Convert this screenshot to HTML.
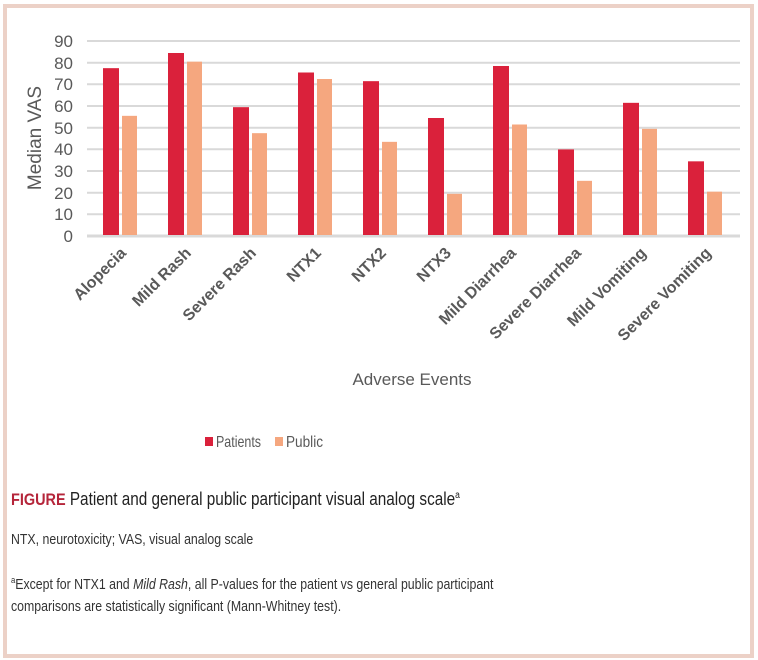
<!DOCTYPE html>
<html><head><meta charset="utf-8"><style>
body{margin:0;background:#fff;}
.wrap{position:relative;width:758px;height:660px;overflow:hidden;font-family:"Liberation Sans",sans-serif;}
.frame{position:absolute;left:3px;top:4px;width:743px;height:646px;border:4px solid #ecd1c7;}
.t{position:absolute;white-space:nowrap;color:#222;transform:scaleX(0.85);transform-origin:0 0;}
</style></head><body><div class="wrap">
<div class="frame"></div>
<svg width="758" height="660" style="position:absolute;left:0;top:0" font-family="Liberation Sans, sans-serif">
<g stroke="#d9d9d9" stroke-width="2">
<line x1="87" x2="740" y1="41" y2="41"/><line x1="87" x2="740" y1="62.7" y2="62.7"/><line x1="87" x2="740" y1="84.3" y2="84.3"/><line x1="87" x2="740" y1="106" y2="106"/><line x1="87" x2="740" y1="127.7" y2="127.7"/><line x1="87" x2="740" y1="149.3" y2="149.3"/><line x1="87" x2="740" y1="171" y2="171"/><line x1="87" x2="740" y1="192.7" y2="192.7"/><line x1="87" x2="740" y1="214.3" y2="214.3"/><line x1="87" x2="740" y1="236" y2="236" stroke-width="3"/>
</g>
<g font-size="17" fill="#595959" text-anchor="end">
<text x="73" y="47">90</text><text x="73" y="69">80</text><text x="73" y="90">70</text><text x="73" y="112">60</text><text x="73" y="134">50</text><text x="73" y="155">40</text><text x="73" y="177">30</text><text x="73" y="199">20</text><text x="73" y="220">10</text><text x="73" y="242">0</text>
</g>
<text transform="translate(41,138) rotate(-90)" text-anchor="middle" font-size="19" fill="#595959">Median VAS</text>
<g id="bars"></g>
<g font-size="16" font-weight="bold" fill="#595959" text-anchor="end" id="labs"></g>
<text x="412" y="385" text-anchor="middle" font-size="17" fill="#595959">Adverse Events</text>
<rect x="205" y="437" width="8" height="9" fill="#da213b"/><text x="216" y="447" font-size="16" fill="#595959" textLength="45" lengthAdjust="spacingAndGlyphs">Patients</text>
<rect x="275" y="437" width="8" height="9" fill="#f5a77f"/><text x="286" y="447" font-size="16" fill="#595959" textLength="37" lengthAdjust="spacingAndGlyphs">Public</text>
</svg>
<div class="t" style="left:11px;top:489px;font-size:18px;"><b style="color:#b5253a;font-size:17px">FIGURE</b> Patient and general public participant visual analog scale<sup style="font-size:10px">a</sup></div>
<div class="t" style="left:11px;top:532px;font-size:14.5px;color:#333">NTX, neurotoxicity; VAS, visual analog scale</div>
<div class="t" style="left:11px;top:569px;font-size:14.5px;color:#333;line-height:22px"><sup style="font-size:9px">a</sup>Except for NTX1 and <i>Mild Rash</i>, all P-values for the patient vs general public participant<br>comparisons are statistically significant (Mann-Whitney test).</div>
<script>
var p=[77,84,59,75,71,54,78,39.5,61,34],q=[55,80,47,72,43,19,51,25,49,20];
var n=["Alopecia","Mild Rash","Severe Rash","NTX1","NTX2","NTX3","Mild Diarrhea","Severe Diarrhea","Mild Vomiting","Severe Vomiting"];
var b="",l="";
for(var i=0;i<10;i++){var x=87+65*i;
b+='<rect x="'+(x+16)+'" y="'+(235-p[i]*2.1667)+'" width="16" height="'+(p[i]*2.1667)+'" fill="#da213b"/>';
b+='<rect x="'+(x+35)+'" y="'+(235-q[i]*2.1667)+'" width="15" height="'+(q[i]*2.1667)+'" fill="#f5a77f"/>';
l+='<text transform="translate('+(x+40)+',254) rotate(-45)">'+n[i]+'</text>';}
document.getElementById("bars").innerHTML=b;document.getElementById("labs").innerHTML=l;
</script>
</div></body></html>
